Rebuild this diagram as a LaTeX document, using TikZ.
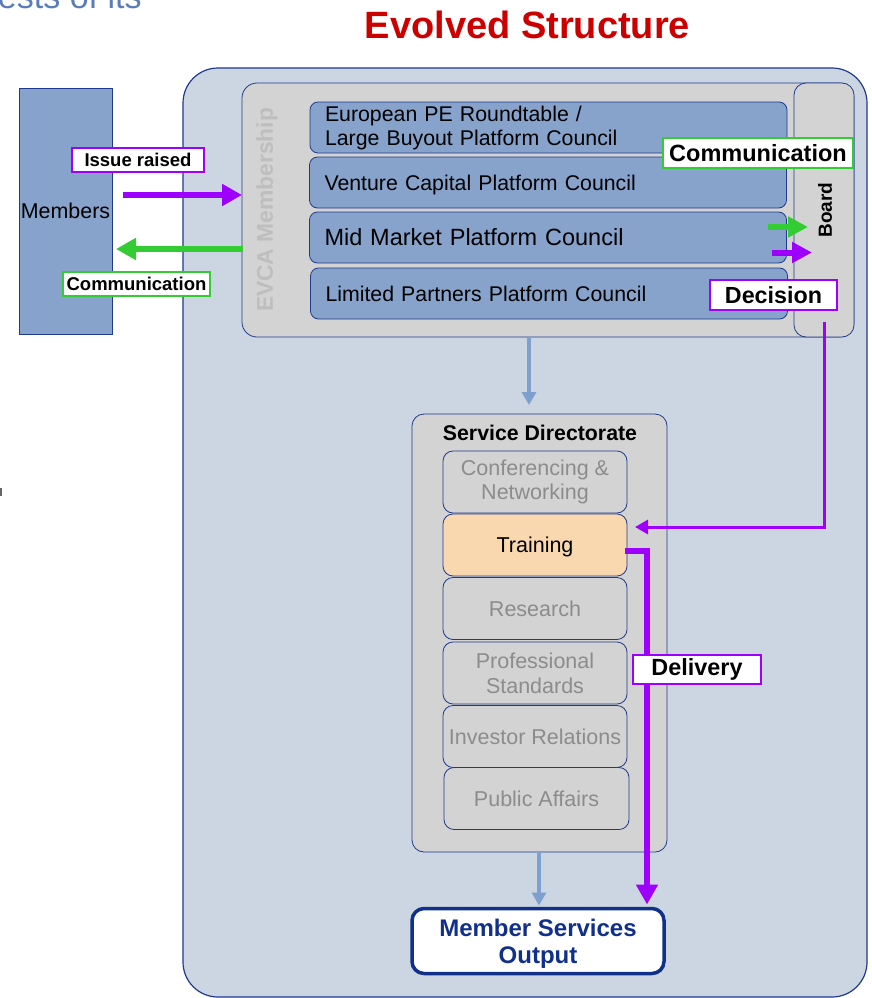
\documentclass[tikz,border=0pt]{standalone}
\usepackage{fontspec}
\setmainfont{Liberation Sans}
\usetikzlibrary{arrows.meta}
\definecolor{outerfill}{HTML}{CCD6E3}
\definecolor{memblue}{HTML}{87A3CB}
\definecolor{boxgrey}{HTML}{D3D3D3}
\definecolor{darkblue}{HTML}{1F3A8C}
\definecolor{purp}{HTML}{9E00FF}
\definecolor{grn}{HTML}{33CC33}
\definecolor{lightarrow}{HTML}{7F9FCF}
\definecolor{peach}{HTML}{F9D8B0}
\definecolor{greytext}{HTML}{8C8C8C}
\definecolor{evcagrey}{HTML}{BEBEBE}
\definecolor{titlered}{HTML}{CC0000}
\definecolor{msoblue}{HTML}{10308A}
\definecolor{topblue}{HTML}{5A7DB9}
\newcommand{\fsz}[1]{\fontsize{#1}{1.15\dimexpr #1pt\relax}\selectfont}
\tikzset{
  every node/.style={inner sep=0pt, outer sep=0pt},
  council/.style={draw=darkblue, fill=memblue, rounded corners=8pt, line width=0.8pt,
    minimum height=51pt, minimum width=477pt, inner xsep=15pt, text width=447pt,
    align=left, font=\fsz{21.3}},
  subbox/.style={draw=darkblue, fill=boxgrey, rounded corners=10pt, line width=0.8pt,
    minimum width=184pt, minimum height=62pt, align=center, text=greytext,
    font=\fontsize{21.5}{24.7}\selectfont},
  labelbox/.style={fill=white, line width=1.3pt, font=\bfseries},
  fatpurp/.style={purp, line width=6.5pt, -{Triangle[length=20pt,width=21pt]}},
  fatgreen/.style={grn, line width=6.5pt, -{Triangle[length=20pt,width=21pt]}},
  bluearrow/.style={lightarrow, line width=3.5pt, -{Triangle[length=13pt,width=14pt]}},
}
\begin{document}
\begin{tikzpicture}[x=1pt,y=-1pt]
\useasboundingbox (0,0) rectangle (872,998);
\clip (0,0) rectangle (872,998);
% cut-off text at top left
\node[anchor=base west, text=topblue, font=\fsz{34}] (topcut) at (-2,9) {ests of its};
\fill[black!60] (0,488) rectangle (2,496);
% title
\node[anchor=base, text=titlered, font=\bfseries\fsz{38}] (title) at (527.5,39) {Evolved Structure};
% outer box
\node[draw=darkblue, fill=outerfill, line width=1.2pt, rounded corners=35pt,
  minimum width=684pt, minimum height=929pt] (outer) at (525,532.5) {};
% members
\node[draw=darkblue, fill=memblue, line width=1pt, minimum width=93pt, minimum height=246pt,
  font=\fsz{21.4}] (members) at (65.5,211) {Members};
% EVCA membership box
\node[draw=darkblue, fill=boxgrey, line width=0.8pt, rounded corners=15pt,
  minimum width=612pt, minimum height=254pt] (evca) at (548,210) {};
\node[rotate=90, text=evcagrey, font=\bfseries\fsz{22.8}] (evcalabel) at (267,210) {EVCA Membership};
% board
\node[draw=darkblue, fill=boxgrey, line width=0.8pt, rounded corners=12pt,
  minimum width=60pt, minimum height=254pt] (board) at (824,210) {};
\node[rotate=90, font=\bfseries\fsz{19}] (boardlabel) at (825,210) {Board};
% councils
\node[council, font=\fontsize{21.3}{24}\selectfont] (c1) at (548.5,127.5) {European PE Roundtable /\\Large Buyout Platform Council};
\node[council, text depth=0pt] (c2) at (548,182.5) {Venture Capital Platform Council};
\node[council, font=\fsz{23.5}] (c3) at (548,237.5) {Mid Market Platform Council};
\node[council] (c4) at (549,293.5) {Limited Partners Platform Council};
% service directorate
\node[draw=darkblue, fill=boxgrey, line width=0.8pt, rounded corners=12pt,
  minimum width=255pt, minimum height=438pt] (sd) at (539.5,633) {};
\node[anchor=base, font=\bfseries\fsz{21.3}] (sdlabel) at (540,440) {Service Directorate};
\node[subbox] (conf) at (535,482) {Conferencing \&\\Networking};
\node[subbox, fill=peach, text=black, text depth=0pt] (training) at (535,545) {Training};
\node[subbox] (research) at (535,608.5) {Research};
\node[subbox] (prof) at (535,673) {Professional\\Standards};
\node[subbox] (investor) at (535,736.5) {Investor Relations};
\node[subbox, minimum width=185pt] (public) at (536.5,798.5) {Public Affairs};
% member services output
\node[draw=msoblue, fill=white, line width=3.5pt, rounded corners=12pt,
  minimum width=252pt, minimum height=65pt] (mso) at (538,941) {};
\node[align=center, text=msoblue, font=\bfseries\fontsize{24}{27}\selectfont] (msotext) at (538,944) {Member Services\\Output};
% connectors
\coordinate (issueStart) at (123,195);
\draw[fatpurp] (issueStart) -- (issueStart -| evca.west);
\coordinate (commStart) at (243,249);
\draw[fatgreen, shorten >=4pt] (commStart) -- (commStart -| members.east);
\coordinate (bg) at (768,227);
\draw[grn, line width=6pt, -{Triangle[length=20pt,width=20pt]}, shorten >=16pt] (bg) -- (bg -| board.center);
\coordinate (bp) at (772,252.5);
\draw[purp, line width=6pt, -{Triangle[length=20pt,width=20pt]}, shorten >=12pt] (bp) -- (bp -| board.center);
\coordinate (decStart) at (824,322);
\coordinate (decTurn) at (824,527);
\draw[purp, line width=3pt, -{Triangle[length=13pt,width=14pt]}, shorten >=8pt]
  (decStart) -- (decTurn) -- (decTurn -| training.east);
\coordinate (delStart) at (625,551);
\coordinate (delX) at (647,551);
\draw[purp, line width=6.5pt, -{Triangle[length=20pt,width=21pt]}, shorten >=4pt]
  (delStart) -- (delX) -- (delX |- mso.north);
\coordinate (evOut) at (529,337);
\draw[bluearrow, shorten >=9pt] (evOut) -- (evOut |- sd.north);
\coordinate (sdOut) at (539,852);
\draw[bluearrow, shorten >=3pt] (sdOut) -- (sdOut |- mso.north);
% labels
\node[labelbox, draw=purp, minimum width=132pt, minimum height=24pt, font=\bfseries\fsz{18.5}] (issue) at (138,160) {Issue raised};
\node[labelbox, draw=grn, minimum width=147pt, minimum height=24pt, font=\bfseries\fsz{18.5}] (commL) at (136.5,284) {Communication};
\node[labelbox, draw=grn, minimum width=190pt, minimum height=30pt, font=\bfseries\fsz{23.5}] (commR) at (758,153) {Communication};
\node[labelbox, draw=purp, minimum width=127pt, minimum height=30pt, font=\bfseries\fsz{23.3}] (decision) at (773.5,295) {Decision};
\node[labelbox, draw=purp, minimum width=128pt, minimum height=29pt, font=\bfseries\fsz{23.4}] (delivery) at (697,669.5) {Delivery};
\end{tikzpicture}
\end{document}
